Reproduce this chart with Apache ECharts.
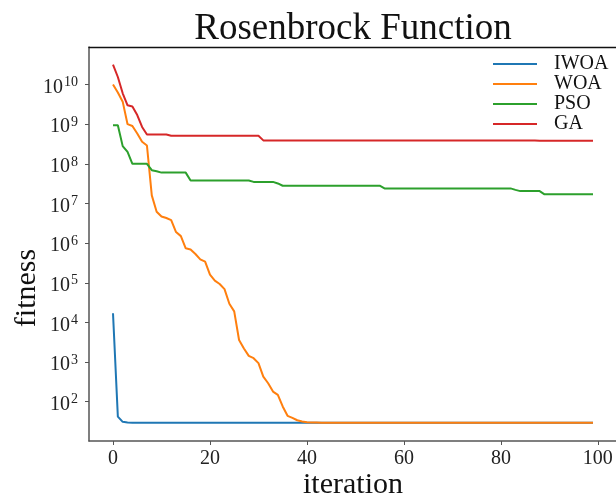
<!DOCTYPE html>
<html>
<head>
<meta charset="utf-8">
<script src="https://cdn.jsdelivr.net/npm/echarts@6/dist/echarts.min.js"></script>
<style>
html, body { margin: 0; padding: 0; background: #fff; }
#main { width: 616px; height: 501px; }
</style>
</head>
<body>
<div id="main"></div>
<script>
var seriesNames = ['IWOA', 'WOA', 'PSO', 'GA'];
var xTicks = [0, 20, 40, 60, 80, 100];
var yTicks = [1e2, 1e3, 1e4, 1e5, 1e6, 1e7, 1e8, 1e9, 1e10];

var iwoa = [
    17000, 42, 31, 29.8, 29.6, 29.6, 29.5, 29.5, 29.5, 29.5,
    29.5, 29.5, 29.5, 29.5, 29.5, 29.5, 29.5, 29.5, 29.5, 29.5,
    29.5, 29.5, 29.5, 29.5, 29.5, 29.5, 29.5, 29.5, 29.5, 29.5,
    29.5, 29.5, 29.5, 29.5, 29.5, 29.5, 29.5, 29.5, 29.5, 29.5,
    29.5, 29.5, 29.5, 29.5, 29.5, 29.5, 29.5, 29.5, 29.5, 29.5,
    29.5, 29.5, 29.5, 29.5, 29.5, 29.5, 29.5, 29.5, 29.5, 29.5,
    29.5, 29.5, 29.5, 29.5, 29.5, 29.5, 29.5, 29.5, 29.5, 29.5,
    29.5, 29.5, 29.5, 29.5, 29.5, 29.5, 29.5, 29.5, 29.5, 29.5,
    29.5, 29.5, 29.5, 29.5, 29.5, 29.5, 29.5, 29.5, 29.5, 29.5,
    29.5, 29.5, 29.5, 29.5, 29.5, 29.5, 29.5, 29.5, 29.5, 29.5
];
var woa = [
    1.0e10, 6.3e9, 3.7e9, 1.0e9, 9.0e8, 5.8e8, 3.6e8, 2.9e8, 1.6e7, 6.2e6,
    4.7e6, 4.3e6, 3.8e6, 1.9e6, 1.5e6, 7.4e5, 6.9e5, 5.3e5, 3.9e5, 3.4e5,
    1.6e5, 1.13e5, 9.3e4, 6.9e4, 2.95e4, 1.9e4, 3600, 2200, 1430, 1250,
    940, 430, 292, 180, 149, 76, 44, 39, 34, 31.8,
    30.5, 30.0, 29.8, 29.6, 29.5, 29.5, 29.5, 29.5, 29.5, 29.5,
    29.5, 29.5, 29.5, 29.5, 29.5, 29.5, 29.5, 29.5, 29.5, 29.5,
    29.5, 29.5, 29.5, 29.5, 29.5, 29.5, 29.5, 29.5, 29.5, 29.5,
    29.5, 29.5, 29.5, 29.5, 29.5, 29.5, 29.5, 29.5, 29.5, 29.5,
    29.5, 29.5, 29.5, 29.5, 29.5, 29.5, 29.5, 29.5, 29.5, 29.5,
    29.5, 29.5, 29.5, 29.5, 29.5, 29.5, 29.5, 29.5, 29.5, 29.5
];
var pso = [
    9.4e8, 9.4e8, 2.8e8, 2.0e8, 1.0e8, 1.0e8, 1.0e8, 1.0e8, 6.9e7, 6.5e7,
    6.0e7, 6.0e7, 6.0e7, 6.0e7, 6.0e7, 6.0e7, 3.8e7, 3.8e7, 3.8e7, 3.8e7,
    3.8e7, 3.8e7, 3.8e7, 3.8e7, 3.8e7, 3.8e7, 3.8e7, 3.8e7, 3.8e7, 3.5e7,
    3.5e7, 3.5e7, 3.5e7, 3.5e7, 3.2e7, 2.8e7, 2.8e7, 2.8e7, 2.8e7, 2.8e7,
    2.8e7, 2.8e7, 2.8e7, 2.8e7, 2.8e7, 2.8e7, 2.8e7, 2.8e7, 2.8e7, 2.8e7,
    2.8e7, 2.8e7, 2.8e7, 2.8e7, 2.8e7, 2.8e7, 2.4e7, 2.4e7, 2.4e7, 2.4e7,
    2.4e7, 2.4e7, 2.4e7, 2.4e7, 2.4e7, 2.4e7, 2.4e7, 2.4e7, 2.4e7, 2.4e7,
    2.4e7, 2.4e7, 2.4e7, 2.4e7, 2.4e7, 2.4e7, 2.4e7, 2.4e7, 2.4e7, 2.4e7,
    2.4e7, 2.4e7, 2.4e7, 2.2e7, 2.05e7, 2.05e7, 2.05e7, 2.05e7, 2.05e7, 1.7e7,
    1.7e7, 1.7e7, 1.7e7, 1.7e7, 1.7e7, 1.7e7, 1.7e7, 1.7e7, 1.7e7, 1.7e7
];
var ga = [
    3.2e10, 1.55e10, 6.0e9, 3.0e9, 2.8e9, 1.7e9, 8.5e8, 5.5e8, 5.5e8, 5.5e8,
    5.5e8, 5.5e8, 5.1e8, 5.1e8, 5.1e8, 5.1e8, 5.1e8, 5.1e8, 5.1e8, 5.1e8,
    5.1e8, 5.1e8, 5.1e8, 5.1e8, 5.1e8, 5.1e8, 5.1e8, 5.1e8, 5.1e8, 5.1e8,
    5.1e8, 3.9e8, 3.9e8, 3.9e8, 3.9e8, 3.9e8, 3.9e8, 3.9e8, 3.9e8, 3.9e8,
    3.9e8, 3.9e8, 3.9e8, 3.9e8, 3.9e8, 3.9e8, 3.9e8, 3.9e8, 3.9e8, 3.9e8,
    3.9e8, 3.9e8, 3.9e8, 3.9e8, 3.9e8, 3.9e8, 3.9e8, 3.9e8, 3.9e8, 3.9e8,
    3.9e8, 3.9e8, 3.9e8, 3.9e8, 3.9e8, 3.9e8, 3.9e8, 3.9e8, 3.9e8, 3.9e8,
    3.9e8, 3.9e8, 3.9e8, 3.9e8, 3.9e8, 3.9e8, 3.9e8, 3.9e8, 3.9e8, 3.9e8,
    3.9e8, 3.9e8, 3.9e8, 3.9e8, 3.9e8, 3.9e8, 3.9e8, 3.9e8, 3.8e8, 3.8e8,
    3.8e8, 3.8e8, 3.8e8, 3.8e8, 3.8e8, 3.8e8, 3.8e8, 3.8e8, 3.8e8, 3.8e8
];
var colors = ['#1f77b4', '#ff7f0e', '#2ca02c', '#d62728'];

var serif = "'Liberation Serif', 'DejaVu Serif', serif";
var chartDom = document.getElementById('main');
var myChart = echarts.init(chartDom);
var option;

function toPoints(arr) {
    return arr.map(function (v, i) { return [i, v]; });
}

var allData = [iwoa, woa, pso, ga];

option = {
    animation: false,
    backgroundColor: '#fff',
    color: colors,
    title: {
        text: 'Rosenbrock Function',
        left: 348,
        textAlign: 'center',
        top: 6,
        textStyle: { fontFamily: serif, fontSize: 37, fontWeight: 'normal', color: '#111' }
    },
    legend: {
        data: seriesNames,
        orient: 'vertical',
        left: 488,
        top: 49,
        icon: 'rect',
        itemWidth: 44,
        itemHeight: 2,
        itemGap: 0,
        textStyle: { fontFamily: serif, fontSize: 20, lineHeight: 19.7, color: '#111', padding: [0, 0, 0, 12] }
    },
    grid: {
        left: 89,
        top: 47,
        right: -1,
        bottom: 60,
        outerBoundsMode: 'none'
    },
    xAxis: [{
        type: 'value',
        min: -4.95,
        max: 103.95,
        name: 'iteration',
        nameLocation: 'middle',
        nameGap: 29,
        nameMoveOverlap: false,
        nameTextStyle: { fontFamily: serif, fontSize: 30, color: '#111' },
        axisLine: { onZero: false, lineStyle: { color: '#555', width: 1.5 } },
        axisTick: { customValues: xTicks, length: 4, lineStyle: { color: '#555' } },
        axisLabel: { customValues: xTicks, fontFamily: serif, fontSize: 20, color: '#222', margin: 8 },
        splitLine: { show: false }
    }, {
        type: 'value',
        position: 'top',
        min: -4.95,
        max: 103.95,
        axisLine: { onZero: false, lineStyle: { color: '#111', width: 1.3 } },
        axisTick: { show: false },
        axisLabel: { show: false },
        splitLine: { show: false }
    }],
    yAxis: {
        type: 'log',
        min: 10.2,
        max: 8.85e10,
        name: 'fitness',
        nameLocation: 'middle',
        nameGap: 47,
        nameMoveOverlap: false,
        nameTextStyle: { fontFamily: serif, fontSize: 30, color: '#111', padding: [0, 88, 0, 0] },
        axisLine: { onZero: false, lineStyle: { color: '#555', width: 1.5 } },
        axisTick: { customValues: yTicks, length: 4, lineStyle: { color: '#555' } },
        axisLabel: {
            customValues: yTicks,
            margin: 11,
            formatter: function (v) {
                return '{b|10}{s|' + Math.round(Math.log10(v)) + '}';
            },
            rich: {
                b: { fontFamily: serif, fontSize: 20, color: '#222', lineHeight: 26, verticalAlign: 'bottom' },
                s: { fontFamily: serif, fontSize: 14, color: '#222', lineHeight: 14, verticalAlign: 'top', padding: [4, 0, 0, 1] }
            }
        },
        splitLine: { show: false }
    },
    series: seriesNames.map(function (name, k) {
        return {
            name: name,
            type: 'line',
            data: toPoints(allData[k]),
            symbol: 'none',
            showSymbol: false,
            lineStyle: { width: 2 },
            z: 2 + k
        };
    })
};

option && myChart.setOption(option);
</script>
</body>
</html>
